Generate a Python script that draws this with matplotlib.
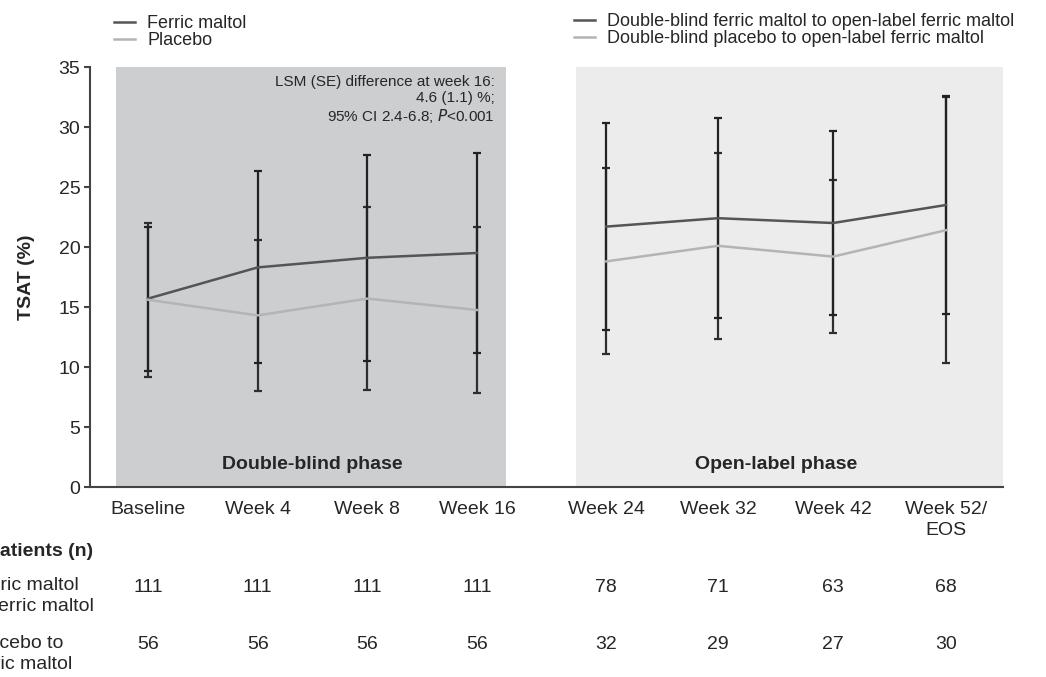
import matplotlib.pyplot as plt

plt.rcParams['font.family'] = ['Liberation Sans', 'DejaVu Sans']

# categories and their positions on the axis
visits = ['Baseline', 'Week 4', 'Week 8', 'Week 16', 'Week 24', 'Week 32', 'Week 42', 'Week 52/\nEOS']
xpos = [0, 1, 2, 3, 4.18, 5.2, 6.25, 7.28]

# double-blind phase, mean and SD of TSAT (%)
db_fm_mean = [15.7, 18.3, 19.1, 19.5]
db_fm_sd = [6.0, 8.0, 8.6, 8.35]
db_pl_mean = [15.6, 14.3, 15.7, 14.75]
db_pl_sd = [6.4, 6.3, 7.6, 6.95]

# open-label phase
ol_fm_mean = [21.7, 22.4, 22.0, 23.5]
ol_fm_sd = [8.6, 8.35, 7.7, 9.05]
ol_pl_mean = [18.8, 20.1, 19.2, 21.4]
ol_pl_sd = [7.75, 7.75, 6.4, 11.1]

# number of patients per visit
n_fm = [111, 111, 111, 111, 78, 71, 63, 68]
n_pl = [56, 56, 56, 56, 32, 29, 27, 30]

dark = '#555555'
light = '#b4b4b4'
ecol = '#222222'
txt = '#262626'

fig = plt.figure(figsize=(10.46, 6.77), dpi=100)
ax = fig.add_axes([90/1046, 1 - 487/677, (1003 - 90)/1046, 420/677])

x_db = xpos[:4]
x_ol = xpos[4:]

# phase backgrounds
ax.axvspan(-0.29, 3.27, ymin=0, ymax=1, color='#cdced0', lw=0, zorder=0)
ax.axvspan(3.9, 7.8, ymin=0, ymax=1, color='#ececec', lw=0, zorder=0)

# error bars
ax.errorbar(x_db, db_pl_mean, yerr=db_pl_sd, fmt='none', ecolor='#2e2e2e', elinewidth=1.6, capsize=3, capthick=1.6, zorder=2)
ax.errorbar(x_db, db_fm_mean, yerr=db_fm_sd, fmt='none', ecolor=ecol, elinewidth=1.6, capsize=3, capthick=1.6, zorder=2)
ax.errorbar(x_ol, ol_pl_mean, yerr=ol_pl_sd, fmt='none', ecolor='#2e2e2e', elinewidth=1.6, capsize=3, capthick=1.6, zorder=2)
ax.errorbar(x_ol, ol_fm_mean, yerr=ol_fm_sd, fmt='none', ecolor=ecol, elinewidth=1.6, capsize=3, capthick=1.6, zorder=2)

# mean lines
l_fm, = ax.plot(x_db, db_fm_mean, color=dark, lw=1.8, zorder=3)
l_pl, = ax.plot(x_db, db_pl_mean, color=light, lw=1.8, zorder=3)
l_ofm, = ax.plot(x_ol, ol_fm_mean, color=dark, lw=1.8, zorder=3)
l_opl, = ax.plot(x_ol, ol_pl_mean, color=light, lw=1.8, zorder=3)

ax.set_xlim(-0.53, 7.8)
ax.set_ylim(0, 35)
ax.set_yticks(range(0, 36, 5))
ax.set_xticks(xpos)
ax.set_xticklabels(visits, fontsize=14, color=txt, ha='center', linespacing=1.3)
ax.tick_params(axis='x', length=0, pad=10)
ax.tick_params(axis='y', length=4, width=1.5, color='#444444', labelsize=14, labelcolor=txt, pad=3)
for s in ['top', 'right']:
    ax.spines[s].set_visible(False)
for s in ['left', 'bottom']:
    ax.spines[s].set_color('#444444')
    ax.spines[s].set_linewidth(1.5)
ax.set_ylabel('TSAT (%)', fontsize=14, fontweight='bold', color=txt, labelpad=17)

# phase labels and statistics
ax.text(1.5, 1.9, 'Double-blind phase', ha='center', va='center', fontsize=14, fontweight='bold', color=txt)
ax.text(5.73, 1.9, 'Open-label phase', ha='center', va='center', fontsize=14, fontweight='bold', color=txt)
ax.text(3.16, 34.3, 'LSM (SE) difference at week 16:\n4.6 (1.1) %;\n95% CI 2.4-6.8; $\\mathit{P}$<0.001',
        ha='right', va='top', fontsize=11, color=txt, linespacing=1.15)

# legends
leg1 = fig.legend([l_fm, l_pl], ['Ferric maltol', 'Placebo'], loc='upper left',
                  bbox_to_anchor=(114/1046, 1 - 15/677), frameon=False, fontsize=13,
                  handlelength=1.15, handletextpad=0.7, labelspacing=0.0, borderpad=0, borderaxespad=0)
leg2 = fig.legend([l_ofm, l_opl], ['Double-blind ferric maltol to open-label ferric maltol',
                                   'Double-blind placebo to open-label ferric maltol'], loc='upper left',
                  bbox_to_anchor=(574/1046, 1 - 13/677), frameon=False, fontsize=13,
                  handlelength=1.15, handletextpad=0.7, labelspacing=0.0, borderpad=0, borderaxespad=0)
for lg in (leg1, leg2):
    for t in lg.get_texts():
        t.set_color(txt)

# patient numbers table
tr = ax.get_xaxis_transform()
for x, a, b in zip(xpos, n_fm, n_pl):
    ax.text(x, -0.240, str(a), transform=tr, ha='center', va='center', fontsize=14, color=txt, clip_on=False)
    ax.text(x, -0.376, str(b), transform=tr, ha='center', va='center', fontsize=14, color=txt, clip_on=False)

fig.text(-13/1046, 1 - 552/677, 'Patients (n)', ha='left', va='center', fontsize=14, fontweight='bold', color=txt)
fig.text(-29/1046, 1 - 596/677, 'Ferric maltol\nto ferric maltol', ha='left', va='center', fontsize=14, color=txt, linespacing=1.35)
fig.text(-29/1046, 1 - 654/677, 'Placebo to\nferric maltol', ha='left', va='center', fontsize=14, color=txt, linespacing=1.35)

fig.savefig('out.png', dpi=100)
